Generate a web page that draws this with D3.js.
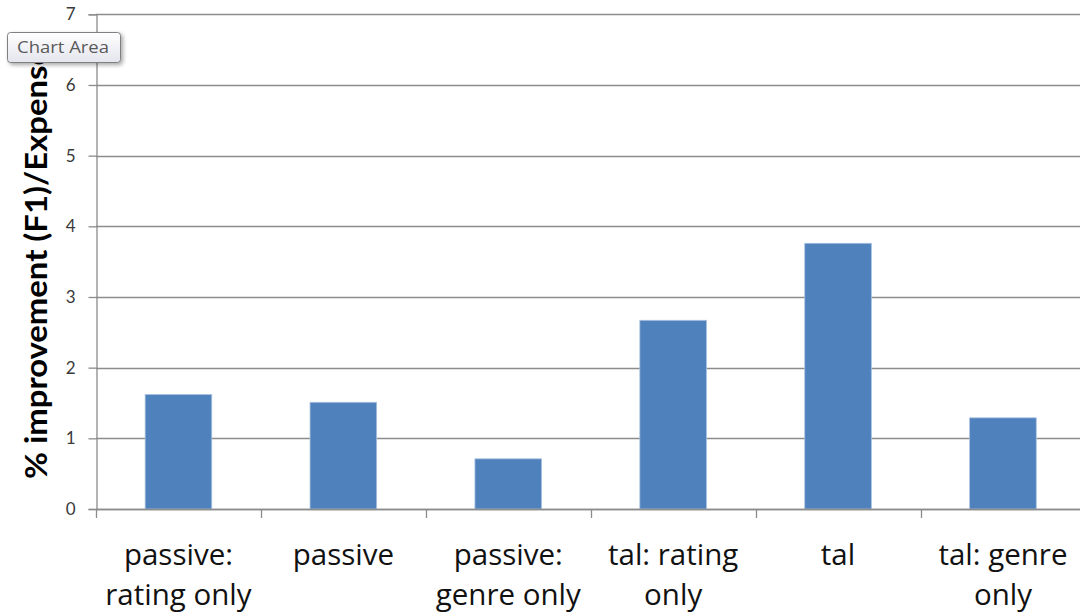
<!DOCTYPE html>
<html>
<head>
<meta charset="utf-8">
<script src="https://cdn.jsdelivr.net/npm/d3@7"></script>
<style>
  html, body { margin: 0; padding: 0; background: #fff; }
  svg { display: block; }
</style>
</head>
<body>
<script>
// Data
const categories = [
  ["passive:", "rating only"],
  ["passive"],
  ["passive:", "genre only"],
  ["tal: rating", "only"],
  ["tal"],
  ["tal: genre", "only"]
];
const values = [1.62, 1.51, 0.71, 2.67, 3.76, 1.29];
const yTicks = [0, 1, 2, 3, 4, 5, 6, 7];
const yTitle = "% improvement (F1)/Expense";

const W = 1080, H = 616;
const margin = { left: 96, top: 14.3, bottom: H - 509 };
const plotRight = 96 + 6 * 164.9;

const svg = d3.select("body").append("svg")
  .attr("width", W).attr("height", H);

const x = d3.scaleBand()
  .domain(d3.range(categories.length))
  .range([margin.left, plotRight])
  .paddingInner(0.596)
  .paddingOuter(0.298);

const y = d3.scaleLinear()
  .domain([0, 7])
  .range([509, margin.top]);

// Horizontal gridlines
svg.append("g")
  .selectAll("line")
  .data(yTicks)
  .join("line")
  .attr("x1", margin.left).attr("x2", W)
  .attr("y1", d => Math.round(y(d)) + 0.5).attr("y2", d => Math.round(y(d)) + 0.5)
  .attr("stroke", "#8c8c8c").attr("stroke-width", 1.3);

// Bars
svg.append("g")
  .selectAll("rect")
  .data(values)
  .join("rect")
  .attr("x", (d, i) => x(i))
  .attr("width", x.bandwidth())
  .attr("y", d => y(d))
  .attr("height", d => y(0) - y(d))
  .attr("fill", "#4f81bd")
  .attr("stroke", "#a9c1e0")
  .attr("stroke-width", 0.8);

// Y axis
const yAxis = d3.axisLeft(y)
  .tickValues(yTicks)
  .tickSize(8)
  .tickPadding(13)
  .tickFormat(d3.format("d"));
const gy = svg.append("g")
  .attr("transform", `translate(${margin.left + 0.5},0)`)
  .call(yAxis);
gy.select(".domain").attr("stroke", "#8c8c8c").attr("stroke-width", 1.3);
gy.selectAll(".tick line").attr("stroke", "#8c8c8c").attr("stroke-width", 1.3);
gy.selectAll(".tick text")
  .attr("font-family", "Lato, 'Open Sans', sans-serif")
  .attr("font-size", 17)
  .attr("fill", "#3a3a3a");

// X axis: ticks between categories
const bandStep = x.step();
const xTickPos = d3.range(categories.length + 1).map(i => margin.left + i * bandStep);
const gx = svg.append("g");
gx.append("line")
  .attr("x1", margin.left).attr("x2", W)
  .attr("y1", 509.5).attr("y2", 509.5)
  .attr("stroke", "#8c8c8c").attr("stroke-width", 1.3);
gx.selectAll(".xtick")
  .data(xTickPos)
  .join("line")
  .attr("class", "xtick")
  .attr("x1", d => Math.round(d) + 0.5).attr("x2", d => Math.round(d) + 0.5)
  .attr("y1", 509).attr("y2", 518)
  .attr("stroke", "#8c8c8c").attr("stroke-width", 1.3);

// Category labels
const catLabels = gx.selectAll(".cat")
  .data(categories)
  .join("text")
  .attr("class", "cat")
  .attr("text-anchor", "middle")
  .attr("font-family", "'Open Sans', Lato, sans-serif")
  .attr("font-size", 29.5)
  .attr("fill", "#111");
catLabels.selectAll("tspan")
  .data((d, i) => d.map(t => ({ t, i })))
  .join("tspan")
  .attr("x", d => x(d.i) + x.bandwidth() / 2)
  .attr("y", (d, j) => 565 + j * 40)
  .text(d => d.t);

// Y axis title
svg.append("text")
  .attr("transform", `translate(47, 479) rotate(-90)`)
  .attr("text-anchor", "start")
  .attr("font-family", "Lato, 'Open Sans', sans-serif")
  .attr("font-weight", "bold")
  .attr("font-size", 30)
  .attr("textLength", 431)
  .attr("lengthAdjust", "spacingAndGlyphs")
  .attr("fill", "#000")
  .text(yTitle);

// "Chart Area" hover tip
const defs = svg.append("defs");
const grad = defs.append("linearGradient")
  .attr("id", "tipFill").attr("x1", 0).attr("y1", 0).attr("x2", 0).attr("y2", 1);
grad.append("stop").attr("offset", "0%").attr("stop-color", "#ffffff");
grad.append("stop").attr("offset", "100%").attr("stop-color", "#e4e5ee");
const shadow = defs.append("filter").attr("id", "tipShadow")
  .attr("x", "-10%").attr("y", "-20%").attr("width", "130%").attr("height", "160%");
shadow.append("feGaussianBlur").attr("in", "SourceAlpha").attr("stdDeviation", 2).attr("result", "b");
shadow.append("feOffset").attr("in", "b").attr("dx", 2).attr("dy", 2).attr("result", "o");
shadow.append("feComponentTransfer").attr("in", "o").attr("result", "s")
  .append("feFuncA").attr("type", "linear").attr("slope", 0.35);
const merge = shadow.append("feMerge");
merge.append("feMergeNode").attr("in", "s");
merge.append("feMergeNode").attr("in", "SourceGraphic");

const tip = svg.append("g");
tip.append("rect")
  .attr("x", 7.5).attr("y", 32.5).attr("width", 113).attr("height", 30)
  .attr("rx", 3)
  .attr("fill", "url(#tipFill)")
  .attr("stroke", "#808080")
  .attr("filter", "url(#tipShadow)");
tip.append("text")
  .attr("x", 17).attr("y", 53)
  .attr("font-family", "'Open Sans', 'Noto Sans', sans-serif")
  .attr("font-size", 16.5)
  .attr("textLength", 92)
  .attr("lengthAdjust", "spacingAndGlyphs")
  .attr("fill", "#5a5a5a")
  .text("Chart Area");
</script>
</body>
</html>
